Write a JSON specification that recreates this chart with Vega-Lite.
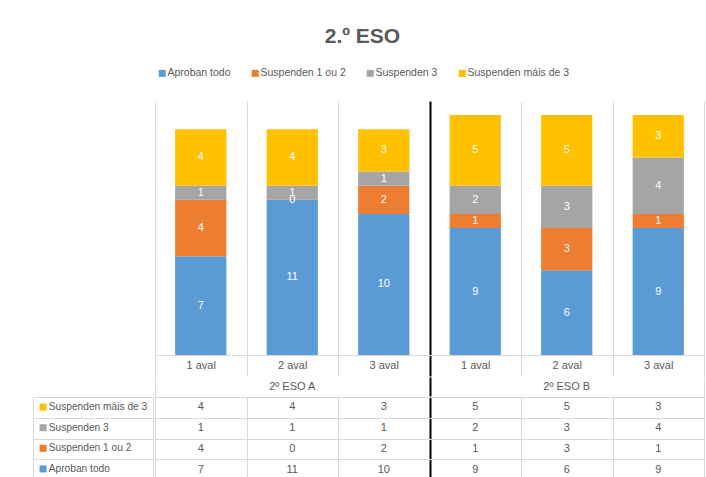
{
  "$schema": "https://vega.github.io/schema/vega-lite/v6.json",
  "padding": {"left": 32, "top": 25, "right": 5, "bottom": 0},
  "title": {"text": "2.º ESO", "fontSize": 21, "fontWeight": "bold", "font": "Liberation Sans", "color": "#595959", "anchor": "middle", "offset": 19.5, "dx": -6},
  "datasets": {
    "d": [
      {"grupo": "2º ESO A", "columna": "2º ESO A / 1 aval", "serie": "Aproban todo", "n": 7},
      {"grupo": "2º ESO A", "columna": "2º ESO A / 1 aval", "serie": "Suspenden 1 ou 2", "n": 4},
      {"grupo": "2º ESO A", "columna": "2º ESO A / 1 aval", "serie": "Suspenden 3", "n": 1},
      {"grupo": "2º ESO A", "columna": "2º ESO A / 1 aval", "serie": "Suspenden máis de 3", "n": 4},
      {"grupo": "2º ESO A", "columna": "2º ESO A / 2 aval", "serie": "Aproban todo", "n": 11},
      {"grupo": "2º ESO A", "columna": "2º ESO A / 2 aval", "serie": "Suspenden 1 ou 2", "n": 0},
      {"grupo": "2º ESO A", "columna": "2º ESO A / 2 aval", "serie": "Suspenden 3", "n": 1},
      {"grupo": "2º ESO A", "columna": "2º ESO A / 2 aval", "serie": "Suspenden máis de 3", "n": 4},
      {"grupo": "2º ESO A", "columna": "2º ESO A / 3 aval", "serie": "Aproban todo", "n": 10},
      {"grupo": "2º ESO A", "columna": "2º ESO A / 3 aval", "serie": "Suspenden 1 ou 2", "n": 2},
      {"grupo": "2º ESO A", "columna": "2º ESO A / 3 aval", "serie": "Suspenden 3", "n": 1},
      {"grupo": "2º ESO A", "columna": "2º ESO A / 3 aval", "serie": "Suspenden máis de 3", "n": 3},
      {"grupo": "2º ESO B", "columna": "2º ESO B / 1 aval", "serie": "Aproban todo", "n": 9},
      {"grupo": "2º ESO B", "columna": "2º ESO B / 1 aval", "serie": "Suspenden 1 ou 2", "n": 1},
      {"grupo": "2º ESO B", "columna": "2º ESO B / 1 aval", "serie": "Suspenden 3", "n": 2},
      {"grupo": "2º ESO B", "columna": "2º ESO B / 1 aval", "serie": "Suspenden máis de 3", "n": 5},
      {"grupo": "2º ESO B", "columna": "2º ESO B / 2 aval", "serie": "Aproban todo", "n": 6},
      {"grupo": "2º ESO B", "columna": "2º ESO B / 2 aval", "serie": "Suspenden 1 ou 2", "n": 3},
      {"grupo": "2º ESO B", "columna": "2º ESO B / 2 aval", "serie": "Suspenden 3", "n": 3},
      {"grupo": "2º ESO B", "columna": "2º ESO B / 2 aval", "serie": "Suspenden máis de 3", "n": 5},
      {"grupo": "2º ESO B", "columna": "2º ESO B / 3 aval", "serie": "Aproban todo", "n": 9},
      {"grupo": "2º ESO B", "columna": "2º ESO B / 3 aval", "serie": "Suspenden 1 ou 2", "n": 1},
      {"grupo": "2º ESO B", "columna": "2º ESO B / 3 aval", "serie": "Suspenden 3", "n": 4},
      {"grupo": "2º ESO B", "columna": "2º ESO B / 3 aval", "serie": "Suspenden máis de 3", "n": 3}
    ]
  },
  "columns": 2,
  "spacing": 0,
  "concat": [
    {
      "width": 120, "height": 254,
      "data": {"name": "d"},
      "mark": {"type": "point", "opacity": 0},
      "view": {"stroke": null}
    },
    {
      "width": 549, "height": 254,
      "data": {"name": "d"},
      "view": {"stroke": null},
      "transform": [
        {"stack": "n", "groupby": ["columna"], "sort": [{"field": "serie", "order": "ascending"}], "as": ["y0", "y1"]}
      ],
      "encoding": {
        "x": {
          "field": "columna", "type": "nominal", "sort": null,
          "scale": {"paddingInner": 0, "paddingOuter": 0},
          "axis": {
            "title": null,
            "tickBand": "extent",
            "grid": true,
            "gridColor": {"condition": {"test": "datum.value === '2º ESO A / 3 aval'", "value": "#000000"}, "value": "#D9D9D9"},
            "gridWidth": {"condition": {"test": "datum.value === '2º ESO A / 3 aval'", "value": 2}, "value": 1},
            "tickColor": {"condition": {"test": "datum.value === '2º ESO A / 3 aval'", "value": "#000000"}, "value": "#D9D9D9"},
            "tickWidth": {"condition": {"test": "datum.value === '2º ESO A / 3 aval'", "value": 2}, "value": 1},
            "tickSize": 21,
            "labelPadding": -16.5,
            "labelExpr": "split(datum.value, ' / ')[1]",
            "labelFontSize": 11,
            "labelColor": "#595959",
            "labelFont": "Liberation Sans",
            "labelOverlap": false,
            "labelAngle": 0,
            "domainColor": "#D9D9D9"
          }
        }
      },
      "layer": [
        {
          "mark": {"type": "bar", "width": {"band": 0.56}},
          "encoding": {
            "y": {"field": "y0", "type": "quantitative", "scale": {"domain": [0, 18]}, "axis": null},
            "y2": {"field": "y1"},
            "color": {
              "field": "serie", "type": "nominal",
              "scale": {"domain": ["Aproban todo", "Suspenden 1 ou 2", "Suspenden 3", "Suspenden máis de 3"], "range": ["#5B9BD5", "#ED7D31", "#A5A5A5", "#FFC000"]},
              "legend": {"orient": "top", "direction": "horizontal", "title": null, "symbolType": "square", "symbolSize": 49, "symbolStrokeWidth": 0, "labelFontSize": 10.5, "labelFont": "Liberation Sans", "labelColor": "#595959", "columnPadding": 19, "labelOffset": 0, "padding": 2, "offset": 20}
            }
          }
        },
        {
          "transform": [{"fold": ["y0", "y1"], "as": ["k", "v"]}],
          "mark": {"type": "text", "color": "#FFFFFF", "fontSize": 11, "font": "Liberation Sans"},
          "encoding": {
            "y": {"aggregate": "mean", "field": "v", "type": "quantitative", "scale": {"domain": [0, 18]}, "axis": null},
            "text": {"field": "n", "type": "quantitative"},
            "detail": {"field": "serie", "type": "nominal"}
          }
        }
      ]
    },
    {
      "width": 120, "height": 19,
      "data": {"name": "d"},
      "mark": {"type": "point", "opacity": 0},
      "view": {"stroke": null}
    },
    {
      "width": 549, "height": 19,
      "data": {"name": "d"},
      "view": {"stroke": null},
      "transform": [{"aggregate": [{"op": "count", "as": "filas"}], "groupby": ["grupo"]}],
      "mark": {"type": "text", "fontSize": 11, "font": "Liberation Sans", "color": "#595959", "baseline": "middle"},
      "encoding": {
        "x": {
          "field": "grupo", "type": "nominal", "sort": null,
          "scale": {"paddingInner": 0, "paddingOuter": 0},
          "axis": {
            "title": null, "labels": false, "ticks": false, "domain": false, "grid": true, "tickBand": "extent",
            "gridColor": {"condition": {"test": "datum.value === '2º ESO A' && datum.index < 0.9", "value": "#000000"}, "value": "#D9D9D9"},
            "gridWidth": {"condition": {"test": "datum.value === '2º ESO A' && datum.index < 0.9", "value": 2}, "value": 1}
          }
        },
        "text": {"field": "grupo", "type": "nominal"}
      }
    },
    {
      "width": 120, "height": 83,
      "data": {"name": "d"},
      "mark": {"type": "point", "filled": true, "shape": "square", "opacity": 0},
      "encoding": {
        "y": {
          "field": "serie", "type": "nominal",
          "scale": {"domain": ["Suspenden máis de 3", "Suspenden 3", "Suspenden 1 ou 2", "Aproban todo"], "paddingInner": 0, "paddingOuter": 0},
          "axis": {"title": null, "labels": false, "ticks": false, "domain": false, "grid": true, "tickBand": "extent", "gridColor": "#D9D9D9"}
        },
        "color": {
          "field": "serie", "type": "nominal",
          "scale": {"domain": ["Suspenden máis de 3", "Suspenden 3", "Suspenden 1 ou 2", "Aproban todo"], "range": ["#FFC000", "#A5A5A5", "#ED7D31", "#5B9BD5"]},
          "legend": {"orient": "top-left", "offset": 5, "direction": "vertical", "title": null, "symbolType": "square", "symbolSize": 49, "symbolOpacity": 1, "symbolStrokeWidth": 0, "labelFontSize": 10.2, "labelFont": "Liberation Sans", "labelColor": "#595959", "labelOffset": 0.5, "rowPadding": 9.6, "padding": 0}
        }
      }
    },
    {
      "width": 549, "height": 83,
      "data": {"name": "d"},
      "mark": {"type": "text", "fontSize": 11, "font": "Liberation Sans", "color": "#595959"},
      "encoding": {
        "x": {
          "field": "columna", "type": "nominal", "sort": null,
          "scale": {"paddingInner": 0, "paddingOuter": 0},
          "axis": {
            "title": null, "labels": false, "ticks": false, "domain": false, "grid": true, "tickBand": "extent",
            "gridColor": {"condition": {"test": "datum.value === '2º ESO A / 3 aval'", "value": "#000000"}, "value": "#D9D9D9"},
            "gridWidth": {"condition": {"test": "datum.value === '2º ESO A / 3 aval'", "value": 2}, "value": 1}
          }
        },
        "y": {
          "field": "serie", "type": "nominal",
          "scale": {"domain": ["Suspenden máis de 3", "Suspenden 3", "Suspenden 1 ou 2", "Aproban todo"], "paddingInner": 0, "paddingOuter": 0},
          "axis": {"title": null, "labels": false, "ticks": false, "domain": false, "grid": true, "tickBand": "extent", "gridColor": "#D9D9D9"}
        },
        "text": {"field": "n", "type": "quantitative"}
      }
    }
  ],
  "resolve": {"scale": {"color": "independent", "x": "independent", "y": "independent"}, "legend": {"color": "independent"}},
  "config": {
    "font": "Liberation Sans",
    "view": {"stroke": "#D9D9D9"},
    "background": "#FFFFFF"
  }
}
